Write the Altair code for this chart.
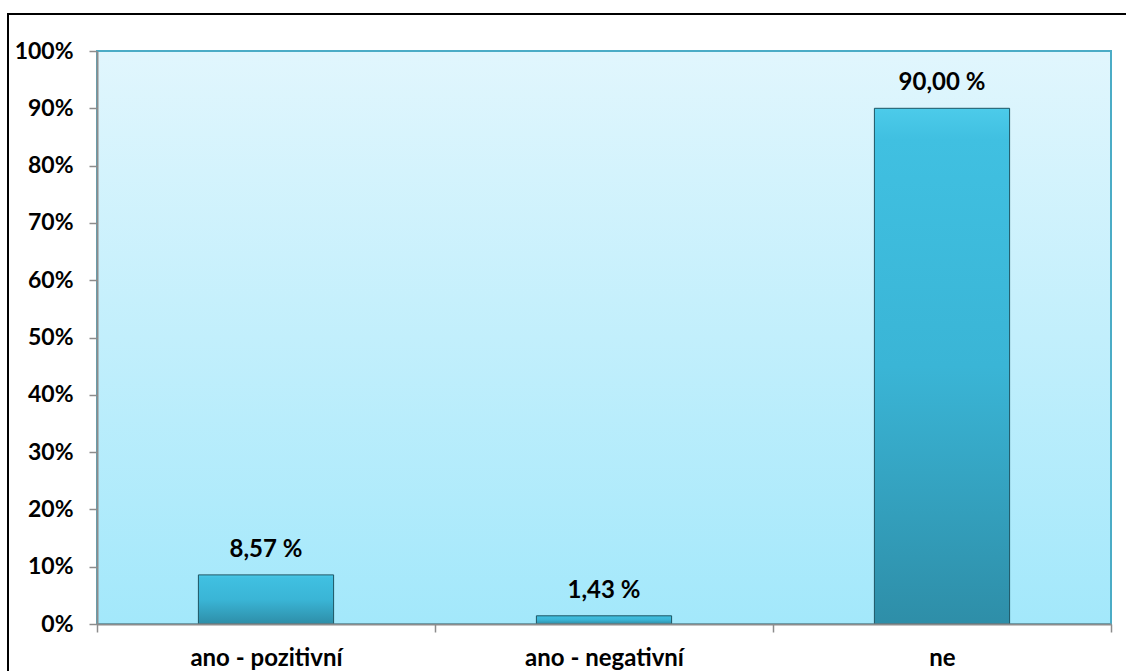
import altair as alt
import pandas as pd

# Survey answers and their shares (percent)
categories = ["ano - pozitivní", "ano - negativní", "ne"]
shares = [8.57, 1.43, 90.00]
y_ticks = [0, 10, 20, 30, 40, 50, 60, 70, 80, 90, 100]

df = pd.DataFrame({"kategorie": categories, "podil": shares})
df["popisek"] = [f"{v:.2f} %".replace(".", ",") for v in shares]

W, H = 1014, 573
FONT = "Lato"

x_enc = alt.X(
    "kategorie:N",
    sort=categories,
    scale=alt.Scale(paddingInner=0, paddingOuter=0),
    axis=alt.Axis(
        title=None, labelAngle=0, labelFont=FONT, labelFontWeight="bold",
        labelFontSize=24, labelColor="#000000", labelPadding=14,
        labelBaseline="top",
        tickBand="extent", tickSize=8, tickColor="#8c8c8c", tickWidth=1.5,
        domainColor="#8c8c8c", domainWidth=2, zindex=2,
    ),
)
y_enc = alt.Y(
    "podil:Q",
    scale=alt.Scale(domain=[0, 100], nice=False),
    axis=alt.Axis(
        title=None, values=y_ticks, labelExpr="datum.value + '%'",
        labelFont=FONT, labelFontWeight="bold", labelFontSize=23,
        labelColor="#000000", labelPadding=16, tickSize=8,
        tickColor="#8c8c8c", tickWidth=1.5, domainColor="#8c8c8c",
        domainWidth=2, grid=False, zindex=2,
    ),
)

# Outer frame around the whole figure
frame = alt.Chart(df).mark_rect(
    fill="#ffffff", stroke="#000000", strokeWidth=2
).encode(
    x=alt.value(-89), x2=alt.value(W + 60),
    y=alt.value(-37), y2=alt.value(H + 80),
)

# Plot area background with vertical gradient
backdrop = alt.Chart(df).mark_rect(
    color=alt.Gradient(
        gradient="linear", x1=0, x2=0, y1=0, y2=1,
        stops=[alt.GradientStop(offset=0, color="#e1f6fd"),
               alt.GradientStop(offset=1, color="#a3e8fb")],
    ),
    stroke="#4bacc6", strokeWidth=2,
).encode(
    x=alt.value(0), x2=alt.value(W), y=alt.value(0), y2=alt.value(H),
)

bars = alt.Chart(df).mark_bar(
    width=alt.RelativeBandSize(0.4),
    color=alt.Gradient(
        gradient="linear", x1=0, x2=0, y1=0, y2=1,
        stops=[alt.GradientStop(offset=0, color="#4ccbea"),
               alt.GradientStop(offset=0.06, color="#40c0e1"),
               alt.GradientStop(offset=0.5, color="#3ab5d6"),
               alt.GradientStop(offset=1, color="#2e8ea8")],
    ),
    stroke="#1c5463", strokeWidth=1,
).encode(x=x_enc, y=y_enc)

labels = alt.Chart(df).mark_text(
    font=FONT, fontWeight="bold", fontSize=24, color="#000000",
    baseline="bottom", dy=-13,
).encode(x=alt.X("kategorie:N", sort=categories), y="podil:Q", text="popisek:N")

chart = alt.layer(frame, backdrop, bars, labels).properties(
    width=W, height=H,
    padding={"left": 97, "top": 51, "right": 15, "bottom": 47},
    autosize=alt.AutoSizeParams(type="none"),
    background="#ffffff",
).configure_view(stroke=None)

chart.save("out.html", embed_options={"renderer": "svg", "actions": False})
